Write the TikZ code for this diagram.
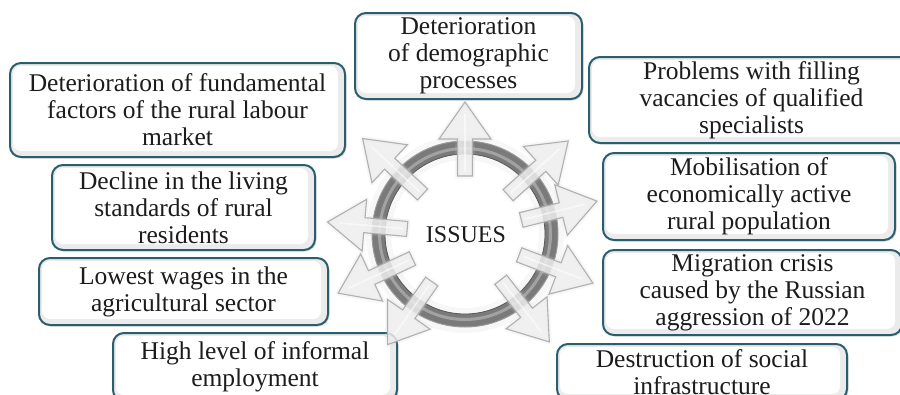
\documentclass[tikz,border=0pt]{standalone}
\usepackage{fontspec}
\setmainfont{Liberation Serif}
\usetikzlibrary{shadows}
\definecolor{frame}{RGB}{42,94,110}
\definecolor{ink}{RGB}{28,28,28}
\tikzset{
  issue/.style={draw=frame, line width=2pt, rounded corners=11pt, fill=gray!16,
    align=center, text=ink, inner sep=0pt,
    font=\fontsize{25.5}{27}\selectfont,
    drop shadow={opacity=0.25, shadow xshift=1.5pt, shadow yshift=-1.5pt},
    path picture={\fill[white, rounded corners=8pt]
      ([xshift=3pt,yshift=-3pt]path picture bounding box.north west) rectangle
      ([xshift=-7pt,yshift=6pt]path picture bounding box.south east);}},
  blockarrow/.style={fill=gray!14, draw=gray!62, line width=1.1pt, line join=miter, fill opacity=0.85},
  arrowglow/.style={draw=gray!45, line width=5pt, opacity=0.15, line join=round},
  ringbody/.style={fill=black!52, even odd rule},
}
\begin{document}
\begin{tikzpicture}[x=1pt, y=-1pt]
  \useasboundingbox (0,0) rectangle (900,394);
  \clip (0,0) rectangle (900,394);

  % problem boxes
  \node[issue, minimum width=227, minimum height=86] (demo) at (468.5,56)
    {Deterioration\\of demographic\\processes};
  \node[issue, minimum width=335, minimum height=94] (fund) at (177.5,110)
    {Deterioration of fundamental\\factors of the rural labour\\market};
  \node[issue, minimum width=263, minimum height=85] (living) at (183.5,207.5)
    {Decline in the living\\standards of rural\\residents};
  \node[issue, minimum width=289, minimum height=67] (wages) at (183.5,291.5)
    {Lowest wages in the\\agricultural sector};
  \node[issue, minimum width=284, minimum height=68] (informal) at (255,367)
    {High level of informal\\employment};
  \node[issue, minimum width=325, minimum height=86] (vacancy) at (751.5,100)
    {Problems with filling\\vacancies of qualified\\specialists};
  \node[issue, minimum width=292, minimum height=87] (mobil) at (749,196.5)
    {Mobilisation of\\economically active\\rural population};
  \node[issue, minimum width=299, minimum height=85] (migr) at (752.5,292.5)
    {Migration crisis\\caused by the Russian\\aggression of 2022};
  \node[issue, minimum width=290, minimum height=56] (infra) at (702,372)
    {Destruction of social\\infrastructure};

  % central ring with a soft halo
  \coordinate (c) at (465,234);
  \draw[gray!50, line width=8pt, opacity=0.12] (c) circle[radius=95];
  \draw[gray!50, line width=8pt, opacity=0.12] (c) circle[radius=78];
  \fill[ringbody] (c) circle[radius=93] (c) circle[radius=80];
  \draw[black!40, line width=1pt] (c) circle[radius=93];
  \draw[white, line width=3pt, opacity=0.3] (c) circle[radius=85.5];
  \draw[black!65, line width=0.8pt] (c) circle[radius=80];

  % radiating arrows: direction / tip radius
  \foreach \a/\r in {90/132,42/139,14/136,-21/137,-52/137,-125/135,-155/140,175/138,137/140}{
    \begin{scope}[shift={(c)}, rotate=\a]
      \pgfmathsetmacro{\b}{\r-37}
      \draw[arrowglow] (58,-7.5) -- (\b,-7.5) -- (\b,-26) -- (\r,0) -- (\b,26) -- (\b,7.5) -- (58,7.5) -- cycle;
      \draw[blockarrow] (58,-7.5) -- (\b,-7.5) -- (\b,-26) -- (\r,0) -- (\b,26) -- (\b,7.5) -- (58,7.5) -- cycle;
      \draw[white, line width=1.5pt, opacity=0.6] (62,0) -- (\r-12,0);
    \end{scope}
  }

  \node[text=ink, font=\fontsize{24}{26}\selectfont] (issues) at (466,235) {ISSUES};
\end{tikzpicture}
\end{document}
